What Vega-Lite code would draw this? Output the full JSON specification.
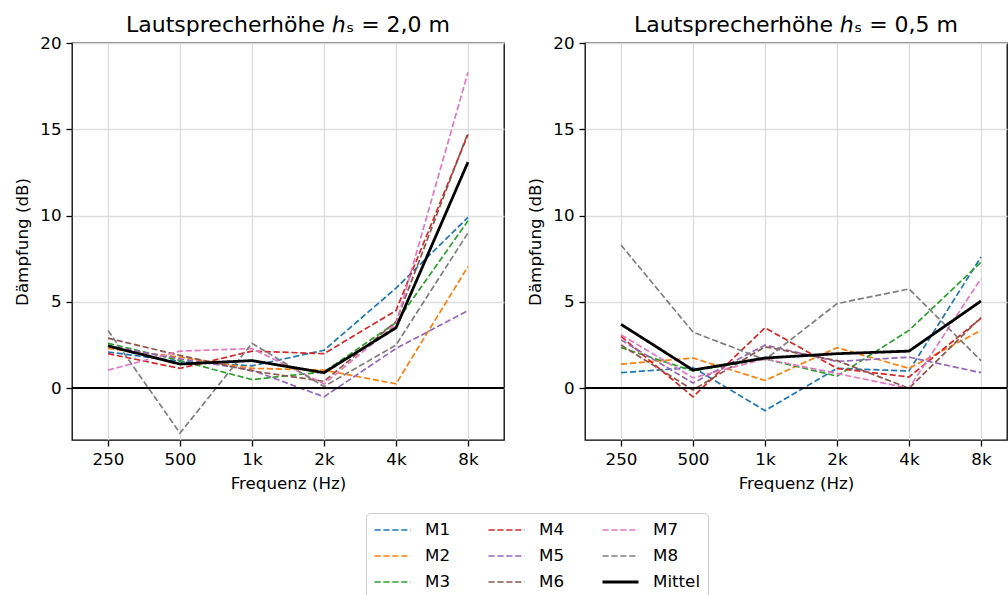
{
  "$schema": "https://vega.github.io/schema/vega-lite/v6.json",
  "padding": {"left": 14, "top": 13, "right": 0, "bottom": 0},
  "background": "white",
  "config": {
    "font": "DejaVu Sans",
    "view": {"stroke": "black", "strokeWidth": 1.3},
    "axis": {
      "labelFont": "DejaVu Sans", "labelFontSize": 16.7, "labelColor": "black",
      "titleFont": "DejaVu Sans", "titleFontSize": 16.7, "titleFontWeight": "normal", "titleColor": "black",
      "gridColor": "#dddddd", "gridWidth": 1.3, "tickColor": "black", "tickSize": 6, "tickWidth": 1.3,
      "domain": false, "labelPadding": 5, "titlePadding": 8
    },
    "title": {"font": "DejaVu Sans", "fontSize": 22, "fontWeight": "normal", "color": "black", "offset": -2},
    "concat": {"spacing": 21},
    "legend": {
      "labelFont": "DejaVu Sans", "labelFontSize": 16.7, "labelColor": "black",
      "symbolType": "stroke", "symbolSize": 1296, "labelOffset": 13,
      "strokeColor": "#cccccc", "fillColor": "white", "cornerRadius": 4, "padding": 7,
      "columnPadding": 36, "rowPadding": 6, "clipHeight": 20
    }
  },
  "data": {"values": [
    {"h":"2,0","f":"250","s":"M1","v":2.1},{"h":"2,0","f":"500","s":"M1","v":1.55},{"h":"2,0","f":"1k","s":"M1","v":1.3},{"h":"2,0","f":"2k","s":"M1","v":2.2},{"h":"2,0","f":"4k","s":"M1","v":5.8},{"h":"2,0","f":"8k","s":"M1","v":9.9},
    {"h":"2,0","f":"250","s":"M2","v":2.3},{"h":"2,0","f":"500","s":"M2","v":1.8},{"h":"2,0","f":"1k","s":"M2","v":1.15},{"h":"2,0","f":"2k","s":"M2","v":1.05},{"h":"2,0","f":"4k","s":"M2","v":0.25},{"h":"2,0","f":"8k","s":"M2","v":7.05},
    {"h":"2,0","f":"250","s":"M3","v":2.6},{"h":"2,0","f":"500","s":"M3","v":1.6},{"h":"2,0","f":"1k","s":"M3","v":0.5},{"h":"2,0","f":"2k","s":"M3","v":0.95},{"h":"2,0","f":"4k","s":"M3","v":3.8},{"h":"2,0","f":"8k","s":"M3","v":9.7},
    {"h":"2,0","f":"250","s":"M4","v":2.0},{"h":"2,0","f":"500","s":"M4","v":1.15},{"h":"2,0","f":"1k","s":"M4","v":2.15},{"h":"2,0","f":"2k","s":"M4","v":2.0},{"h":"2,0","f":"4k","s":"M4","v":4.5},{"h":"2,0","f":"8k","s":"M4","v":14.7},
    {"h":"2,0","f":"250","s":"M5","v":2.45},{"h":"2,0","f":"500","s":"M5","v":1.7},{"h":"2,0","f":"1k","s":"M5","v":1.05},{"h":"2,0","f":"2k","s":"M5","v":-0.5},{"h":"2,0","f":"4k","s":"M5","v":2.3},{"h":"2,0","f":"8k","s":"M5","v":4.5},
    {"h":"2,0","f":"250","s":"M6","v":2.9},{"h":"2,0","f":"500","s":"M6","v":1.9},{"h":"2,0","f":"1k","s":"M6","v":1.0},{"h":"2,0","f":"2k","s":"M6","v":0.4},{"h":"2,0","f":"4k","s":"M6","v":3.85},{"h":"2,0","f":"8k","s":"M6","v":14.8},
    {"h":"2,0","f":"250","s":"M7","v":1.05},{"h":"2,0","f":"500","s":"M7","v":2.15},{"h":"2,0","f":"1k","s":"M7","v":2.3},{"h":"2,0","f":"2k","s":"M7","v":0.25},{"h":"2,0","f":"4k","s":"M7","v":3.7},{"h":"2,0","f":"8k","s":"M7","v":18.3},
    {"h":"2,0","f":"250","s":"M8","v":3.35},{"h":"2,0","f":"500","s":"M8","v":-2.6},{"h":"2,0","f":"1k","s":"M8","v":2.6},{"h":"2,0","f":"2k","s":"M8","v":0.1},{"h":"2,0","f":"4k","s":"M8","v":2.5},{"h":"2,0","f":"8k","s":"M8","v":9.0},
    {"h":"2,0","f":"250","s":"Mittel","v":2.45},{"h":"2,0","f":"500","s":"Mittel","v":1.4},{"h":"2,0","f":"1k","s":"Mittel","v":1.6},{"h":"2,0","f":"2k","s":"Mittel","v":0.9},{"h":"2,0","f":"4k","s":"Mittel","v":3.5},{"h":"2,0","f":"8k","s":"Mittel","v":13.1},
    {"h":"0,5","f":"250","s":"M1","v":0.9},{"h":"0,5","f":"500","s":"M1","v":1.2},{"h":"0,5","f":"1k","s":"M1","v":-1.3},{"h":"0,5","f":"2k","s":"M1","v":1.15},{"h":"0,5","f":"4k","s":"M1","v":1.0},{"h":"0,5","f":"8k","s":"M1","v":7.6},
    {"h":"0,5","f":"250","s":"M2","v":1.4},{"h":"0,5","f":"500","s":"M2","v":1.75},{"h":"0,5","f":"1k","s":"M2","v":0.45},{"h":"0,5","f":"2k","s":"M2","v":2.35},{"h":"0,5","f":"4k","s":"M2","v":1.15},{"h":"0,5","f":"8k","s":"M2","v":3.35},
    {"h":"0,5","f":"250","s":"M3","v":2.35},{"h":"0,5","f":"500","s":"M3","v":1.0},{"h":"0,5","f":"1k","s":"M3","v":1.7},{"h":"0,5","f":"2k","s":"M3","v":0.7},{"h":"0,5","f":"4k","s":"M3","v":3.35},{"h":"0,5","f":"8k","s":"M3","v":7.3},
    {"h":"0,5","f":"250","s":"M4","v":3.0},{"h":"0,5","f":"500","s":"M4","v":-0.5},{"h":"0,5","f":"1k","s":"M4","v":3.5},{"h":"0,5","f":"2k","s":"M4","v":1.15},{"h":"0,5","f":"4k","s":"M4","v":0.65},{"h":"0,5","f":"8k","s":"M4","v":4.05},
    {"h":"0,5","f":"250","s":"M5","v":2.8},{"h":"0,5","f":"500","s":"M5","v":0.3},{"h":"0,5","f":"1k","s":"M5","v":2.5},{"h":"0,5","f":"2k","s":"M5","v":1.55},{"h":"0,5","f":"4k","s":"M5","v":1.8},{"h":"0,5","f":"8k","s":"M5","v":0.9},
    {"h":"0,5","f":"250","s":"M6","v":2.5},{"h":"0,5","f":"500","s":"M6","v":-0.1},{"h":"0,5","f":"1k","s":"M6","v":2.4},{"h":"0,5","f":"2k","s":"M6","v":1.6},{"h":"0,5","f":"4k","s":"M6","v":0.0},{"h":"0,5","f":"8k","s":"M6","v":4.1},
    {"h":"0,5","f":"250","s":"M7","v":3.1},{"h":"0,5","f":"500","s":"M7","v":0.6},{"h":"0,5","f":"1k","s":"M7","v":1.7},{"h":"0,5","f":"2k","s":"M7","v":0.85},{"h":"0,5","f":"4k","s":"M7","v":0.0},{"h":"0,5","f":"8k","s":"M7","v":6.35},
    {"h":"0,5","f":"250","s":"M8","v":8.3},{"h":"0,5","f":"500","s":"M8","v":3.25},{"h":"0,5","f":"1k","s":"M8","v":1.65},{"h":"0,5","f":"2k","s":"M8","v":4.9},{"h":"0,5","f":"4k","s":"M8","v":5.75},{"h":"0,5","f":"8k","s":"M8","v":1.6},
    {"h":"0,5","f":"250","s":"Mittel","v":3.7},{"h":"0,5","f":"500","s":"Mittel","v":1.05},{"h":"0,5","f":"1k","s":"Mittel","v":1.75},{"h":"0,5","f":"2k","s":"Mittel","v":2.0},{"h":"0,5","f":"4k","s":"Mittel","v":2.15},{"h":"0,5","f":"8k","s":"Mittel","v":5.05}
  ]},
  "hconcat": [
    {
      "width": 432, "height": 397,
      "title": "Lautsprecherhöhe ℎₛ = 2,0 m",
      "transform": [{"filter": "datum.h === '2,0'"}],
      "layer": [
        {
          "mark": {"type": "line", "clip": true},
          "encoding": {
            "x": {"field": "f", "type": "ordinal", "sort": ["250","500","1k","2k","4k","8k"],
                  "scale": {"type": "point", "padding": 0.5},
                  "axis": {"title": "Frequenz (Hz)", "labelAngle": 0, "grid": true}},
            "y": {"field": "v", "type": "quantitative", "scale": {"domain": [-3, 20], "nice": false, "zero": false},
                  "axis": {"values": [0,5,10,15,20], "title": "Dämpfung (dB)"}},
            "color": {"field": "s", "type": "nominal",
                      "scale": {"domain": ["M1","M2","M3","M4","M5","M6","M7","M8","Mittel"],
                                "range": ["#1f77b4","#ff7f0e","#2ca02c","#d62728","#9467bd","#8c564b","#e377c2","#7f7f7f","#000000"]},
                      "legend": {"title": null, "orient": "none", "legendX": 294, "legendY": 470, "columns": 3}},
            "strokeDash": {"field": "s", "type": "nominal",
                      "scale": {"domain": ["M1","M2","M3","M4","M5","M6","M7","M8","Mittel"],
                                "range": [[6.2,2.7],[6.2,2.7],[6.2,2.7],[6.2,2.7],[6.2,2.7],[6.2,2.7],[6.2,2.7],[6.2,2.7],[1,0]]}},
            "strokeWidth": {"field": "s", "type": "nominal",
                      "scale": {"type": "ordinal", "domain": ["M1","M2","M3","M4","M5","M6","M7","M8","Mittel"],
                                "range": [1.7,1.7,1.7,1.7,1.7,1.7,1.7,1.7,2.8]}}
          }
        },
        {"mark": {"type": "rule", "color": "black", "strokeWidth": 1.3}, "encoding": {"y": {"datum": 0}}}
      ]
    },
    {
      "width": 422, "height": 397,
      "title": "Lautsprecherhöhe ℎₛ = 0,5 m",
      "transform": [{"filter": "datum.h === '0,5'"}],
      "layer": [
        {
          "mark": {"type": "line", "clip": true},
          "encoding": {
            "x": {"field": "f", "type": "ordinal", "sort": ["250","500","1k","2k","4k","8k"],
                  "scale": {"type": "point", "padding": 0.4306, "align": 0.5806},
                  "axis": {"title": "Frequenz (Hz)", "labelAngle": 0, "grid": true}},
            "y": {"field": "v", "type": "quantitative", "scale": {"domain": [-3, 20], "nice": false, "zero": false},
                  "axis": {"values": [0,5,10,15,20], "title": "Dämpfung (dB)"}},
            "color": {"field": "s", "type": "nominal",
                      "scale": {"domain": ["M1","M2","M3","M4","M5","M6","M7","M8","Mittel"],
                                "range": ["#1f77b4","#ff7f0e","#2ca02c","#d62728","#9467bd","#8c564b","#e377c2","#7f7f7f","#000000"]},
                      "legend": {"title": null, "orient": "none", "legendX": 294, "legendY": 470, "columns": 3}},
            "strokeDash": {"field": "s", "type": "nominal",
                      "scale": {"domain": ["M1","M2","M3","M4","M5","M6","M7","M8","Mittel"],
                                "range": [[6.2,2.7],[6.2,2.7],[6.2,2.7],[6.2,2.7],[6.2,2.7],[6.2,2.7],[6.2,2.7],[6.2,2.7],[1,0]]}},
            "strokeWidth": {"field": "s", "type": "nominal",
                      "scale": {"type": "ordinal", "domain": ["M1","M2","M3","M4","M5","M6","M7","M8","Mittel"],
                                "range": [1.7,1.7,1.7,1.7,1.7,1.7,1.7,1.7,2.8]}}
          }
        },
        {"mark": {"type": "rule", "color": "black", "strokeWidth": 1.3}, "encoding": {"y": {"datum": 0}}}
      ]
    }
  ]
}
